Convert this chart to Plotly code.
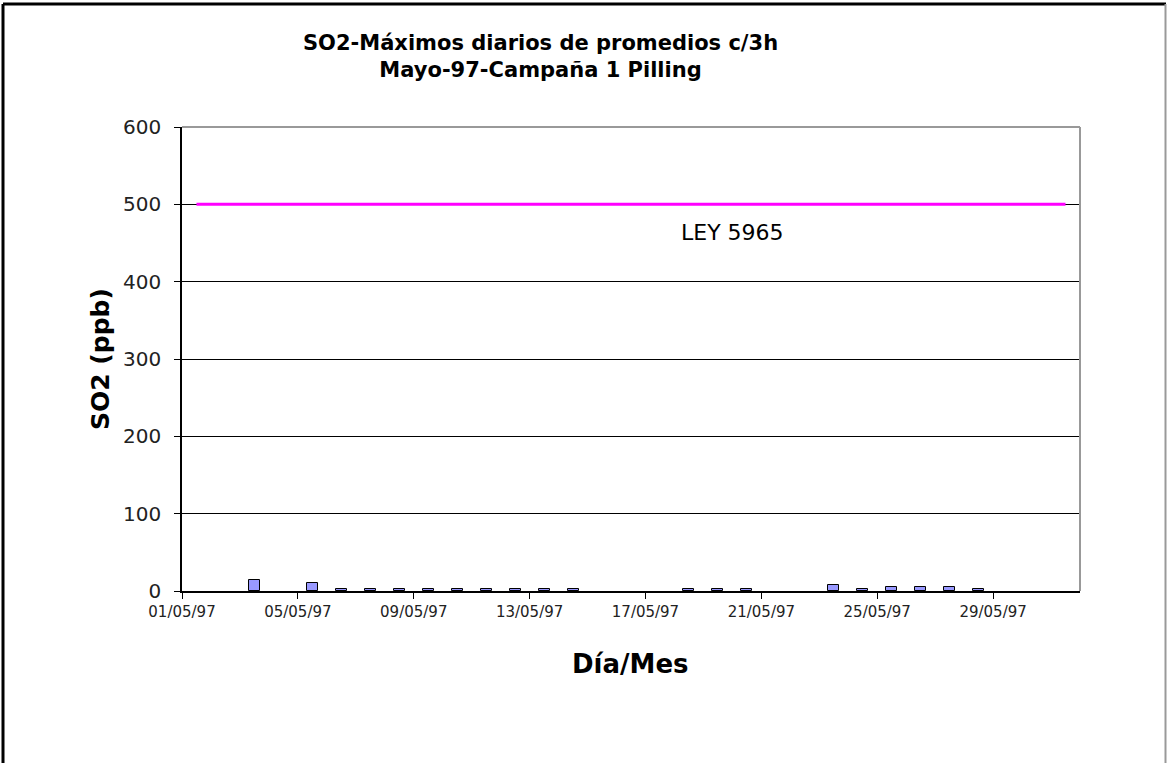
import plotly.graph_objects as go

# ---- data ----
fechas = ["1997-05-03", "1997-05-05", "1997-05-06", "1997-05-07", "1997-05-08",
          "1997-05-09", "1997-05-10", "1997-05-11", "1997-05-12", "1997-05-13",
          "1997-05-14", "1997-05-18", "1997-05-19", "1997-05-20", "1997-05-23",
          "1997-05-24", "1997-05-25", "1997-05-26", "1997-05-27", "1997-05-28"]
so2_max = [14, 10, 2, 2, 2, 2, 2, 2, 2, 2, 2, 2, 2, 2, 8, 2, 5, 5, 5, 2]

ley_fechas = ["1997-05-%02d" % d for d in range(1, 32)]
ley_valor = [500] * len(ley_fechas)

tick_fechas = ["1997-05-01", "1997-05-05", "1997-05-09", "1997-05-13",
               "1997-05-17", "1997-05-21", "1997-05-25", "1997-05-29"]
tick_labels = ["01/05/97", "05/05/97", "09/05/97", "13/05/97",
               "17/05/97", "21/05/97", "25/05/97", "29/05/97"]
y_ticks = [0, 100, 200, 300, 400, 500, 600]

DAY = 86400000

fig = go.Figure()
fig.add_trace(go.Bar(
    x=fechas, y=so2_max, xperiod=DAY, xperiodalignment="middle",
    width=0.38 * DAY,
    marker=dict(color="#9999FF", line=dict(color="black", width=1)),
    showlegend=False))
fig.add_trace(go.Scatter(
    x=ley_fechas, y=ley_valor, xperiod=DAY, xperiodalignment="middle",
    mode="lines", line=dict(color="#FF00FF", width=3), showlegend=False))

L, R, T, B = 182, 1080, 127, 591
W, H = 1167, 763
def px(x):
    return (x - L) / (R - L)
def py(y):
    return (B - y) / (B - T)

FONT = "DejaVu Sans"
fig.update_layout(
    width=W, height=H,
    margin=dict(l=L, r=W - R, t=T, b=H - B),
    plot_bgcolor="white", paper_bgcolor="white",
    font=dict(family=FONT, color="black"),
    bargap=0,
)
fig.update_xaxes(
    type="date", range=["1997-05-01", "1997-06-01"],
    tickvals=tick_fechas, ticktext=tick_labels,
    tickfont=dict(size=15, color="#222"),
    ticks="outside", ticklen=6, tickcolor="black",
    ticklabelstandoff=0,
    showline=True, linecolor="black", linewidth=1.5,
    showgrid=False, zeroline=False,
)
fig.update_yaxes(
    range=[0, 600], tickvals=y_ticks,
    tickfont=dict(size=20, color="#222"),
    ticks="outside", ticklen=6, tickcolor="black",
    ticklabelstandoff=9,
    showline=True, linecolor="black", linewidth=1.5,
    showgrid=True, gridcolor="black", gridwidth=1,
    zeroline=False,
)

shapes = [
    dict(type="line", xref="paper", yref="paper", x0=0, x1=1, y0=1, y1=1,
         line=dict(color="#999999", width=2)),
    dict(type="line", xref="paper", yref="paper", x0=1, x1=1, y0=0, y1=1,
         line=dict(color="#999999", width=2)),
    dict(type="line", xref="paper", yref="paper", x0=px(3), x1=px(1166),
         y0=py(4), y1=py(4), line=dict(color="black", width=3)),
    dict(type="line", xref="paper", yref="paper", x0=px(3), x1=px(3),
         y0=py(4), y1=py(800), line=dict(color="black", width=3)),
    dict(type="line", xref="paper", yref="paper", x0=px(1165.5), x1=px(1165.5),
         y0=py(4), y1=py(800), line=dict(color="#999999", width=2)),
]
fig.update_layout(shapes=shapes)

fig.add_annotation(
    xref="paper", yref="paper", x=px(540), y=py(56),
    text="<b>SO2-Máximos diarios de promedios c/3h<br>Mayo-97-Campaña 1 Pilling</b>",
    showarrow=False, font=dict(size=21, family=FONT),
    xanchor="center", yanchor="middle", align="center")
fig.add_annotation(
    xref="paper", yref="paper", x=px(100), y=py(359),
    text="<b>SO2 (ppb)</b>", textangle=-90, showarrow=False,
    font=dict(size=25, family=FONT), xanchor="center", yanchor="middle")
fig.add_annotation(
    xref="paper", yref="paper", x=px(630), y=py(664),
    text="<b>Día/Mes</b>", showarrow=False,
    font=dict(size=26, family=FONT), xanchor="center", yanchor="middle")
fig.add_annotation(
    xref="paper", yref="paper", x=px(732), y=py(232),
    text="LEY 5965", showarrow=False,
    font=dict(size=22, family=FONT),
    xanchor="center", yanchor="middle")

fig.write_html("out.html", config={"displayModeBar": False},
               post_script="document.body.style.margin='0';")
